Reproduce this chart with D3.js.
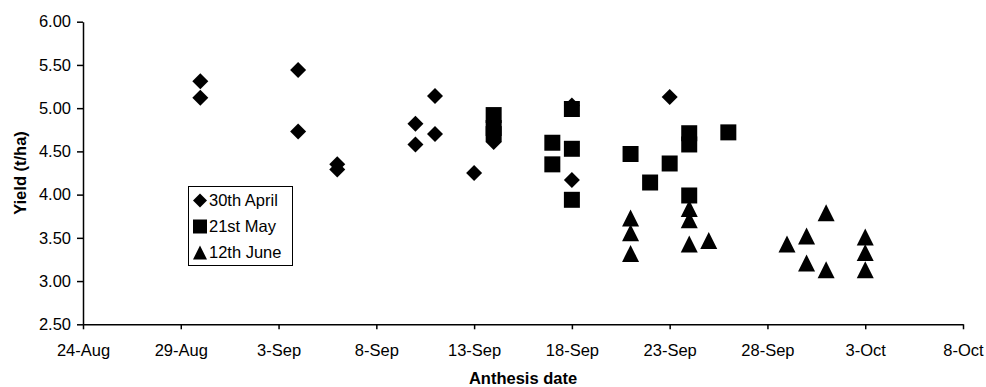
<!DOCTYPE html>
<html>

<head>
  <meta charset="utf-8">
  <script src="https://cdn.jsdelivr.net/npm/d3@7"></script>
  <style>
    body {
      margin: 0;
      background: #ffffff;
    }

    #chart text {
      font-family: "Liberation Sans", Arial, sans-serif;
      fill: #000000;
    }

    .axis path,
    .axis line {
      stroke: #000000;
      stroke-width: 1.5;
    }

    .axis text {
      font-size: 16.5px;
    }

    .axis-title {
      font-size: 16.5px;
      font-weight: bold;
    }

    .legend-label {
      font-size: 16.5px;
    }
  </style>
</head>

<body>
  <svg id="chart" width="986" height="387"></svg>

  <script>
    // data (anthesis date, yield t/ha)
    var seriesNames = ['30th April', '21st May', '12th June']

    var april30Dates = ['30-Aug', '30-Aug', '4-Sep', '4-Sep', '6-Sep', '6-Sep', '10-Sep', '10-Sep',
      '11-Sep', '11-Sep', '13-Sep', '14-Sep', '18-Sep', '18-Sep', '23-Sep']
    var april30Yield = [5.31, 5.12, 5.44, 4.73, 4.35, 4.29, 4.82, 4.58,
      5.14, 4.70, 4.25, 4.61, 5.03, 4.17, 5.13]

    var may21Dates = ['14-Sep', '14-Sep', '14-Sep', '17-Sep', '17-Sep', '18-Sep', '18-Sep', '18-Sep',
      '21-Sep', '22-Sep', '23-Sep', '24-Sep', '24-Sep', '24-Sep', '26-Sep']
    var may21Yield = [4.92, 4.77, 4.70, 4.60, 4.35, 4.99, 4.53, 3.94,
      4.47, 4.14, 4.36, 4.71, 4.58, 3.99, 4.72]

    var june12Dates = ['21-Sep', '21-Sep', '21-Sep', '24-Sep', '24-Sep', '24-Sep', '25-Sep', '29-Sep',
      '30-Sep', '30-Sep', '1-Oct', '1-Oct', '3-Oct', '3-Oct', '3-Oct']
    var june12Yield = [3.73, 3.56, 3.32, 3.84, 3.71, 3.43, 3.47, 3.43,
      3.52, 3.21, 3.79, 3.13, 3.51, 3.33, 3.13]

    var xTickLabels = ['24-Aug', '29-Aug', '3-Sep', '8-Sep', '13-Sep', '18-Sep', '23-Sep', '28-Sep', '3-Oct', '8-Oct']
    var yTickValues = [2.5, 3, 3.5, 4, 4.5, 5, 5.5, 6]

    var parseDate = d3.utcParse('%d-%b')

    // custom marker shapes, r = half width
    var diamond = {
      draw: function (ctx, size) {
        var r = Math.sqrt(size) / 2
        ctx.moveTo(0, -r); ctx.lineTo(r, 0); ctx.lineTo(0, r); ctx.lineTo(-r, 0); ctx.closePath()
      }
    }
    var square = {
      draw: function (ctx, size) {
        var r = Math.sqrt(size) / 2
        ctx.rect(-r, -r, 2 * r, 2 * r)
      }
    }
    var triangle = {
      draw: function (ctx, size) {
        var r = Math.sqrt(size) / 2
        ctx.moveTo(0, -r); ctx.lineTo(r, r); ctx.lineTo(-r, r); ctx.closePath()
      }
    }

    var series = [
      { name: seriesNames[0], dates: april30Dates, values: april30Yield, shape: diamond, size: 16 },
      { name: seriesNames[1], dates: may21Dates, values: may21Yield, shape: square, size: 16 },
      { name: seriesNames[2], dates: june12Dates, values: june12Yield, shape: triangle, size: 17 }
    ]

    var svg = d3.select('#chart')

    var plotLeft = 83, plotRight = 963, plotTop = 21.7, plotBottom = 324.3

    var x = d3.scaleUtc()
      .domain([parseDate(xTickLabels[0]), parseDate(xTickLabels[xTickLabels.length - 1])])
      .range([plotLeft, plotRight])

    var y = d3.scaleLinear()
      .domain([2.5, 6])
      .range([plotBottom, plotTop])

    // axes
    svg.append('g')
      .attr('class', 'axis')
      .attr('transform', 'translate(0,' + plotBottom + ')')
      .call(d3.axisBottom(x)
        .tickValues(xTickLabels.map(parseDate))
        .tickFormat(d3.utcFormat('%-d-%b'))
        .tickSize(5)
        .tickSizeOuter(0)
        .tickPadding(15))

    svg.append('g')
      .attr('class', 'axis')
      .attr('transform', 'translate(' + plotLeft + ',0)')
      .call(d3.axisLeft(y)
        .tickValues(yTickValues)
        .tickFormat(d3.format('.2f'))
        .tickSize(6)
        .tickSizeOuter(0)
        .tickPadding(6))

    svg.selectAll('.axis text').attr('fill', '#000000')

    // axis titles
    svg.append('text')
      .attr('class', 'axis-title')
      .attr('x', (plotLeft + plotRight) / 2)
      .attr('y', 384)
      .attr('text-anchor', 'middle')
      .text('Anthesis date')

    svg.append('text')
      .attr('class', 'axis-title')
      .attr('transform', 'translate(26,' + ((plotTop + plotBottom) / 2) + ') rotate(-90)')
      .attr('text-anchor', 'middle')
      .text('Yield (t/ha)')

    // points
    series.forEach(function (s) {
      var pts = s.dates.map(function (d, i) { return { date: parseDate(d), value: s.values[i] } })
      svg.append('g')
        .selectAll('path')
        .data(pts)
        .enter()
        .append('path')
        .attr('transform', function (d) { return 'translate(' + x(d.date) + ',' + y(d.value) + ')' })
        .attr('d', d3.symbol().type(s.shape).size(s.size * s.size))
        .attr('fill', '#000000')
    })

    // legend
    var legend = svg.append('g').attr('transform', 'translate(188.5,186.5)')
    legend.append('rect')
      .attr('width', 104)
      .attr('height', 79)
      .attr('fill', '#ffffff')
      .attr('stroke', '#000000')
      .attr('stroke-width', 1)

    series.forEach(function (s, i) {
      var row = legend.append('g').attr('transform', 'translate(11.5,' + (14 + i * 26) + ')')
      row.append('path')
        .attr('d', d3.symbol().type(s.shape).size(14 * 14))
        .attr('fill', '#000000')
      row.append('text')
        .attr('class', 'legend-label')
        .attr('x', 9)
        .attr('dy', '0.35em')
        .text(s.name)
    })
  </script>

</body>

</html>
